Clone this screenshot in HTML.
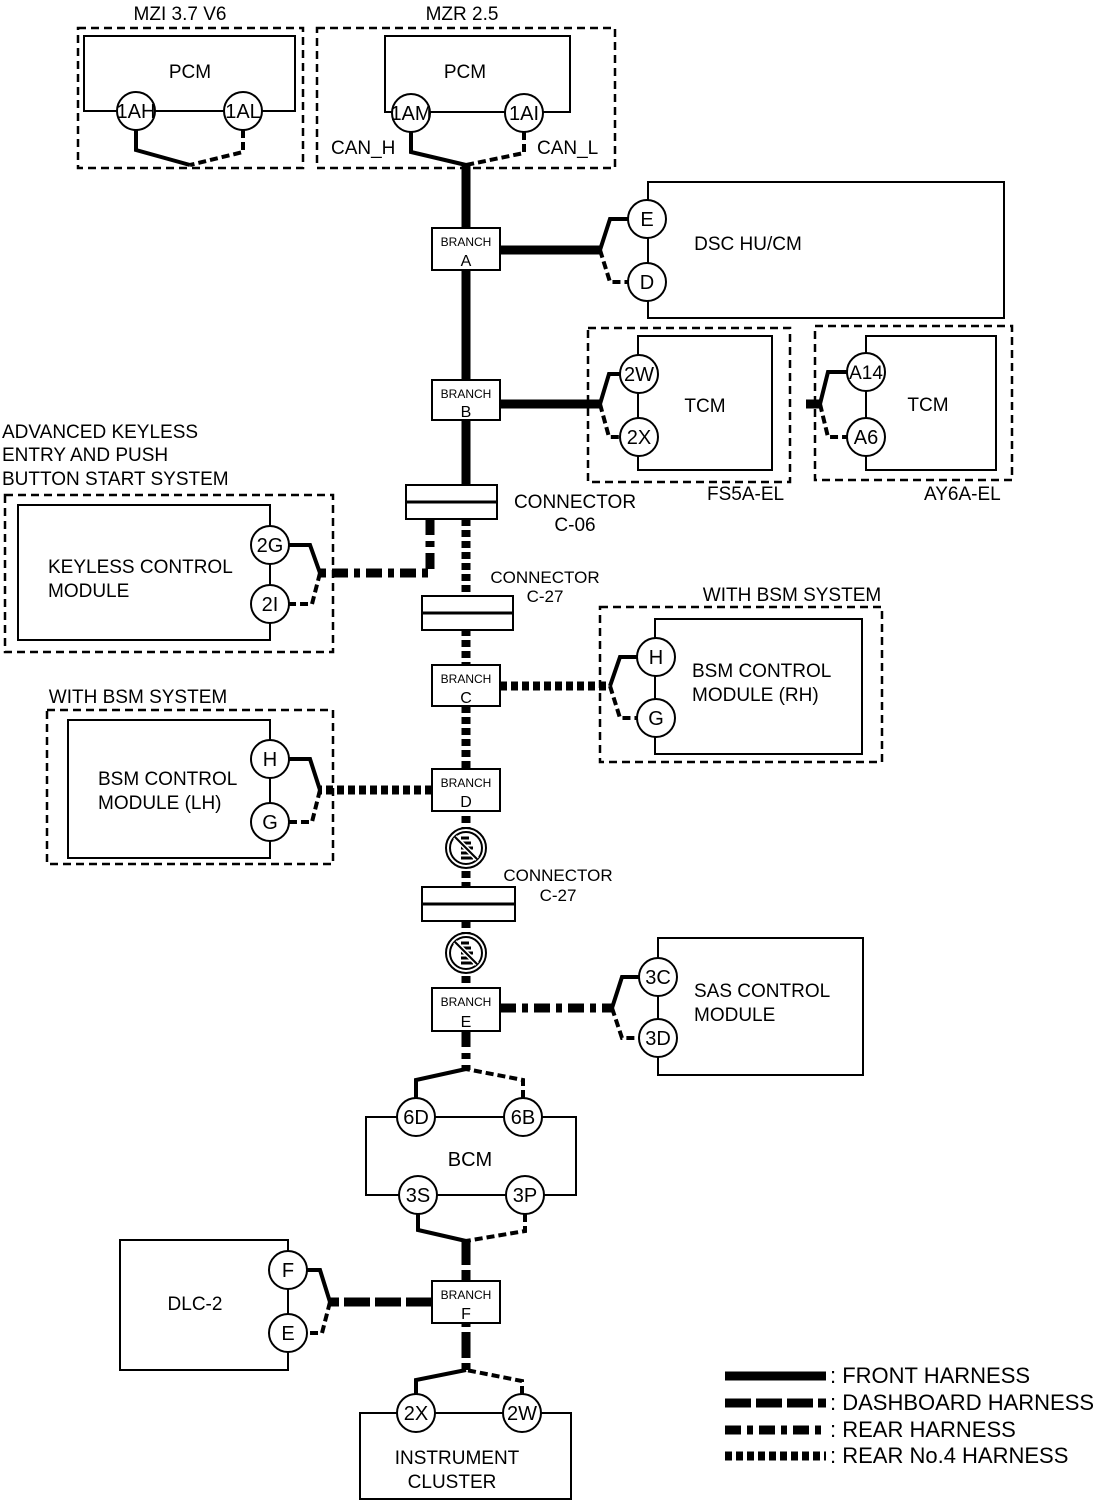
<!DOCTYPE html>
<html><head><meta charset="utf-8"><style>
html,body{margin:0;padding:0;background:#fff}
svg{display:block}
text{font-family:"Liberation Sans",sans-serif;fill:#000}
</style></head><body>
<svg width="1112" height="1501" viewBox="0 0 1112 1501" xmlns="http://www.w3.org/2000/svg">
<defs>
<style>
.t{font-size:19px}
.m{font-size:17px}
.k{font-size:20px}
.s{font-size:12px}
.b{font-size:16px}
.lg{font-size:22px}
.box{fill:#fff;stroke:#000;stroke-width:2}
.dbox{fill:none;stroke:#000;stroke-width:2.5;stroke-dasharray:8,5}
.c{fill:#fff;stroke:#000;stroke-width:2}
.pw{fill:none;stroke:#000;stroke-width:4;stroke-linejoin:miter}
.pd{fill:none;stroke:#000;stroke-width:4;stroke-dasharray:8,4}
.front{stroke:#000;stroke-width:9;fill:none}
.dash{stroke:#000;stroke-width:9;fill:none;stroke-dasharray:26,5}
.rear{stroke:#000;stroke-width:9;fill:none;stroke-dasharray:16,6,6,6}
.r4{stroke:#000;stroke-width:9;fill:none;stroke-dasharray:7,4}
</style>
</defs>

<!-- MZI -->
<text x="180" y="20" class="t" text-anchor="middle">MZI 3.7 V6</text>
<rect x="78" y="28" width="225" height="140" class="dbox"/>
<path d="M84 111 V36 H295 V111 Z" class="box"/>
<text x="190" y="78" class="t" text-anchor="middle">PCM</text>
<path d="M136 130 V150 L190 165" class="pw"/>
<path d="M243 130 V152 L190 165" class="pd"/>
<circle cx="136" cy="111" r="19" class="c"/><text x="136" y="118" class="k" text-anchor="middle">1AH</text>
<circle cx="243" cy="111" r="19" class="c"/><text x="243" y="118" class="k" text-anchor="middle">1AL</text>

<!-- MZR -->
<text x="462" y="20" class="t" text-anchor="middle">MZR 2.5</text>
<rect x="317" y="28" width="298" height="140" class="dbox"/>
<path d="M385 112 V36 H570 V112 Z" class="box"/>
<text x="465" y="78" class="t" text-anchor="middle">PCM</text>
<path d="M411 132 V152 L466 165" class="pw"/>
<path d="M524 132 V153 L466 165" class="pd"/>
<circle cx="411" cy="113" r="19" class="c"/><text x="411" y="120" class="k" text-anchor="middle">1AM</text>
<circle cx="524" cy="113" r="19" class="c"/><text x="524" y="120" class="k" text-anchor="middle">1AI</text>
<text x="331" y="154" class="t">CAN_H</text>
<text x="537" y="154" class="t">CAN_L</text>

<!-- trunk front -->
<line x1="466" y1="163" x2="466" y2="486" class="front"/>
<!-- Branch A -->
<line x1="500" y1="250" x2="600" y2="250" class="front"/>
<path d="M600 250 L610 219 H628" class="pw"/>
<path d="M600 250 L610 282 H628" class="pd"/>
<rect x="648" y="182" width="356" height="136" class="box"/>
<circle cx="647" cy="219" r="19" class="c"/><text x="647" y="226" class="k" text-anchor="middle">E</text>
<circle cx="647" cy="282" r="19" class="c"/><text x="647" y="289" class="k" text-anchor="middle">D</text>
<text x="748" y="250" class="t" text-anchor="middle">DSC HU/CM</text>
<rect x="432" y="228" width="68" height="42" class="box"/>
<text x="466" y="246" class="s" text-anchor="middle">BRANCH</text>
<text x="466" y="266" class="b" text-anchor="middle">A</text>

<!-- Branch B / TCM -->
<line x1="500" y1="404" x2="600" y2="404" class="front"/>
<path d="M600 404 L609 374 H620" class="pw"/>
<path d="M600 404 L609 437 H620" class="pd"/>
<rect x="588" y="328" width="202" height="154" class="dbox"/>
<rect x="638" y="336" width="134" height="134" class="box"/>
<circle cx="639" cy="374" r="19" class="c"/><text x="639" y="381" class="k" text-anchor="middle">2W</text>
<circle cx="639" cy="437" r="19" class="c"/><text x="639" y="444" class="k" text-anchor="middle">2X</text>
<text x="705" y="412" class="t" text-anchor="middle">TCM</text>
<text x="707" y="500" class="t">FS5A-EL</text>
<rect x="815" y="326" width="197" height="154" class="dbox"/>
<rect x="866" y="336" width="130" height="134" class="box"/>
<line x1="806" y1="404" x2="820" y2="404" class="front"/>
<path d="M820 404 L828 372 H847" class="pw"/>
<path d="M820 404 L828 437 H847" class="pd"/>
<circle cx="866" cy="372" r="19" class="c"/><text x="866" y="379" class="t" text-anchor="middle">A14</text>
<circle cx="866" cy="437" r="19" class="c"/><text x="866" y="444" class="k" text-anchor="middle">A6</text>
<text x="928" y="411" class="t" text-anchor="middle">TCM</text>
<text x="924" y="500" class="t">AY6A-EL</text>
<rect x="432" y="380" width="68" height="40" class="box"/>
<text x="466" y="398" class="s" text-anchor="middle">BRANCH</text>
<text x="466" y="417" class="b" text-anchor="middle">B</text>

<!-- Keyless -->
<text x="2" y="438" class="t">ADVANCED KEYLESS</text>
<text x="2" y="461" class="t">ENTRY AND PUSH</text>
<text x="2" y="485" class="t">BUTTON START SYSTEM</text>
<rect x="5" y="495" width="328" height="157" class="dbox"/>
<rect x="18" y="505" width="252" height="135" class="box"/>
<path d="M430 519 V573 H320" class="rear"/>
<path d="M320 573 L310 545 H289" class="pw"/>
<path d="M320 573 L312 604 H289" class="pd"/>
<circle cx="270" cy="545" r="19" class="c"/><text x="270" y="552" class="k" text-anchor="middle">2G</text>
<circle cx="270" cy="604" r="19" class="c"/><text x="270" y="611" class="k" text-anchor="middle">2I</text>
<text x="48" y="573" class="t">KEYLESS CONTROL</text>
<text x="48" y="597" class="t">MODULE</text>

<!-- r4 trunk -->
<line x1="466" y1="519" x2="466" y2="890" class="r4"/>
<rect x="406" y="485" width="91" height="34" class="box" stroke-width="3"/>
<line x1="406" y1="502" x2="497" y2="502" stroke="#000" stroke-width="3"/>
<text x="575" y="508" class="t" text-anchor="middle">CONNECTOR</text>
<text x="575" y="531" class="t" text-anchor="middle">C-06</text>
<rect x="422" y="596" width="91" height="34" class="box" stroke-width="3"/>
<line x1="422" y1="613" x2="513" y2="613" stroke="#000" stroke-width="3"/>
<text x="545" y="583" class="m" text-anchor="middle">CONNECTOR</text>
<text x="545" y="602" class="m" text-anchor="middle">C-27</text>

<!-- Branch C -->
<line x1="500" y1="686" x2="610" y2="686" class="r4"/>
<path d="M610 686 L620 657 H637" class="pw"/>
<path d="M610 686 L620 718 H637" class="pd"/>
<text x="792" y="601" class="t" text-anchor="middle">WITH BSM SYSTEM</text>
<rect x="600" y="607" width="282" height="155" class="dbox"/>
<rect x="655" y="619" width="207" height="135" class="box"/>
<circle cx="656" cy="657" r="19" class="c"/><text x="656" y="664" class="k" text-anchor="middle">H</text>
<circle cx="656" cy="718" r="19" class="c"/><text x="656" y="725" class="k" text-anchor="middle">G</text>
<text x="692" y="677" class="t">BSM CONTROL</text>
<text x="692" y="701" class="t">MODULE (RH)</text>
<rect x="432" y="665" width="68" height="41" class="box"/>
<text x="466" y="683" class="s" text-anchor="middle">BRANCH</text>
<text x="466" y="703" class="b" text-anchor="middle">C</text>

<!-- Branch D -->
<line x1="432" y1="790" x2="320" y2="790" class="r4"/>
<path d="M320 790 L310 759 H289" class="pw"/>
<path d="M320 790 L312 822 H289" class="pd"/>
<text x="138" y="703" class="t" text-anchor="middle">WITH BSM SYSTEM</text>
<rect x="47" y="710" width="286" height="154" class="dbox"/>
<rect x="68" y="720" width="202" height="138" class="box"/>
<circle cx="270" cy="759" r="19" class="c"/><text x="270" y="766" class="k" text-anchor="middle">H</text>
<circle cx="270" cy="822" r="19" class="c"/><text x="270" y="829" class="k" text-anchor="middle">G</text>
<text x="98" y="785" class="t">BSM CONTROL</text>
<text x="98" y="809" class="t">MODULE (LH)</text>
<rect x="432" y="769" width="68" height="42" class="box"/>
<text x="466" y="787" class="s" text-anchor="middle">BRANCH</text>
<text x="466" y="807" class="b" text-anchor="middle">D</text>

<!-- no-entry symbols -->
<g>
<circle cx="466" cy="848" r="20" fill="#fff" stroke="#000" stroke-width="2"/>
<circle cx="466" cy="848" r="16" fill="#fff" stroke="#000" stroke-width="2"/>
<path d="M461 838 H469 M461 843 H471 M461 848 H473 M461 853 H473 M461 858 H473" stroke="#000" stroke-width="3"/>
<line x1="455" y1="837" x2="477" y2="859" stroke="#fff" stroke-width="5"/>
<line x1="455" y1="837" x2="477" y2="859" stroke="#000" stroke-width="2"/>
</g>
<line x1="466" y1="921" x2="466" y2="990" class="r4"/>
<rect x="422" y="887" width="93" height="34" class="box" stroke-width="3"/>
<line x1="422" y1="904" x2="515" y2="904" stroke="#000" stroke-width="3"/>
<text x="558" y="881" class="m" text-anchor="middle">CONNECTOR</text>
<text x="558" y="901" class="m" text-anchor="middle">C-27</text>
<g>
<circle cx="466" cy="953" r="20" fill="#fff" stroke="#000" stroke-width="2"/>
<circle cx="466" cy="953" r="16" fill="#fff" stroke="#000" stroke-width="2"/>
<path d="M461 943 H469 M461 948 H471 M461 953 H473 M461 958 H473 M461 963 H473" stroke="#000" stroke-width="3"/>
<line x1="455" y1="942" x2="477" y2="964" stroke="#fff" stroke-width="5"/>
<line x1="455" y1="942" x2="477" y2="964" stroke="#000" stroke-width="2"/>
</g>

<!-- Branch E -->
<line x1="500" y1="1008" x2="612" y2="1008" class="rear"/>
<path d="M612 1008 L622 977 H639" class="pw"/>
<path d="M612 1008 L622 1038 H639" class="pd"/>
<rect x="658" y="938" width="205" height="137" class="box"/>
<circle cx="658" cy="977" r="19" class="c"/><text x="658" y="984" class="k" text-anchor="middle">3C</text>
<circle cx="658" cy="1038" r="19" class="c"/><text x="658" y="1045" class="k" text-anchor="middle">3D</text>
<text x="694" y="997" class="t">SAS CONTROL</text>
<text x="694" y="1021" class="t">MODULE</text>
<line x1="466" y1="1031" x2="466" y2="1070" class="rear"/>
<rect x="432" y="988" width="68" height="43" class="box"/>
<text x="466" y="1006" class="s" text-anchor="middle">BRANCH</text>
<text x="466" y="1027" class="b" text-anchor="middle">E</text>

<!-- BCM -->
<path d="M416 1098 V1080 L466 1069" class="pw"/>
<path d="M523 1098 V1080 L466 1069" class="pd"/>
<path d="M366 1117 H576 V1195 H366 Z" class="box"/>
<circle cx="416" cy="1117" r="19" class="c"/><text x="416" y="1124" class="k" text-anchor="middle">6D</text>
<circle cx="523" cy="1117" r="19" class="c"/><text x="523" y="1124" class="k" text-anchor="middle">6B</text>
<circle cx="418" cy="1195" r="19" class="c"/><text x="418" y="1202" class="k" text-anchor="middle">3S</text>
<circle cx="525" cy="1195" r="19" class="c"/><text x="525" y="1202" class="k" text-anchor="middle">3P</text>
<text x="470" y="1166" class="k" text-anchor="middle">BCM</text>
<path d="M418 1214 V1230 L466 1241" class="pw"/>
<path d="M525 1214 V1231 L466 1241" class="pd"/>

<!-- Branch F -->
<line x1="466" y1="1239" x2="466" y2="1370" class="dash"/>
<line x1="432" y1="1302" x2="330" y2="1302" class="dash"/>
<path d="M330 1302 L320 1270 H307" class="pw"/>
<path d="M330 1302 L322 1333 H307" class="pd"/>
<rect x="120" y="1240" width="168" height="130" class="box"/>
<circle cx="288" cy="1270" r="19" class="c"/><text x="288" y="1277" class="k" text-anchor="middle">F</text>
<circle cx="288" cy="1333" r="19" class="c"/><text x="288" y="1340" class="k" text-anchor="middle">E</text>
<text x="195" y="1310" class="t" text-anchor="middle">DLC-2</text>
<rect x="432" y="1281" width="68" height="42" class="box"/>
<text x="466" y="1299" class="s" text-anchor="middle">BRANCH</text>
<text x="466" y="1319" class="b" text-anchor="middle">F</text>

<!-- Instrument cluster -->
<path d="M416 1394 V1380 L466 1370" class="pw"/>
<path d="M522 1394 V1381 L466 1370" class="pd"/>
<rect x="360" y="1413" width="211" height="86" class="box"/>
<circle cx="416" cy="1413" r="19" class="c"/><text x="416" y="1420" class="k" text-anchor="middle">2X</text>
<circle cx="522" cy="1413" r="19" class="c"/><text x="522" y="1420" class="k" text-anchor="middle">2W</text>
<text x="457" y="1464" class="t" text-anchor="middle">INSTRUMENT</text>
<text x="452" y="1488" class="t" text-anchor="middle">CLUSTER</text>

<!-- Legend -->
<line x1="725" y1="1376" x2="826" y2="1376" class="front"/>
<line x1="725" y1="1403" x2="826" y2="1403" class="dash"/>
<line x1="725" y1="1430" x2="826" y2="1430" class="rear"/>
<line x1="725" y1="1456" x2="826" y2="1456" class="r4"/>
<text x="830" y="1383" class="lg">: FRONT HARNESS</text>
<text x="830" y="1410" class="lg">: DASHBOARD HARNESS</text>
<text x="830" y="1437" class="lg">: REAR HARNESS</text>
<text x="830" y="1463" class="lg">: REAR No.4 HARNESS</text>
</svg>
</body></html>
